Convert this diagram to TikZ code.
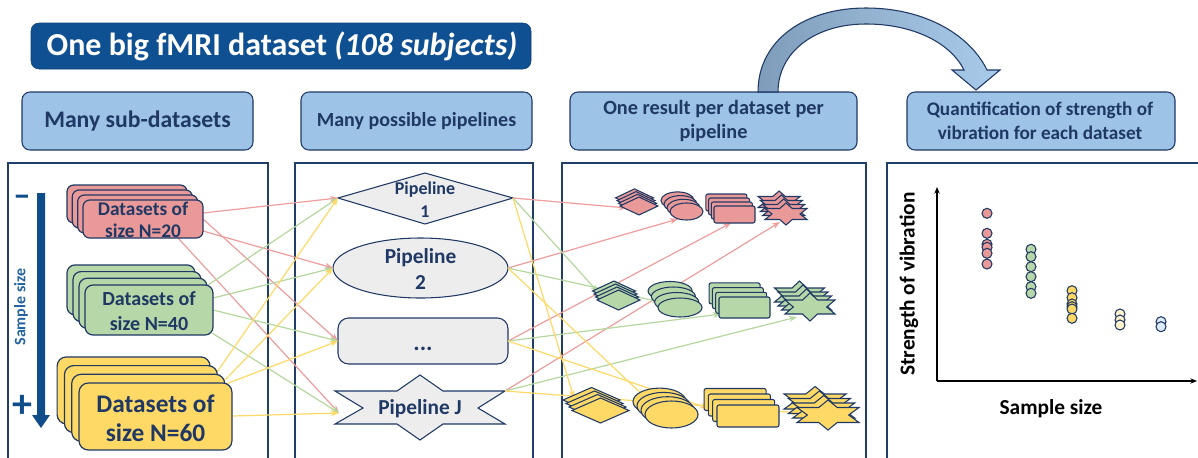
\documentclass[tikz,border=0pt]{standalone}
\usepackage{fontspec}
\setmainfont{Carlito}
\usetikzlibrary{arrows.meta,shapes.geometric}
\definecolor{navy}{HTML}{1F3864}
\definecolor{titleblue}{HTML}{0F5092}
\definecolor{hdrfill}{HTML}{9DC3E6}
\definecolor{redf}{HTML}{EA9999}
\definecolor{greenf}{HTML}{B6D7A8}
\definecolor{yellowf}{HTML}{FFD966}
\definecolor{redl}{HTML}{EE9C9C}
\definecolor{greenl}{HTML}{B4D79E}
\definecolor{yellowl}{HTML}{FFD966}
\definecolor{pipefill}{HTML}{EDEDED}
\definecolor{framec}{HTML}{1F3F6A}
\definecolor{arrowblue}{HTML}{0F4C8A}
\definecolor{lightyel}{HTML}{FFF2CC}
\definecolor{lightblu}{HTML}{DEEBF7}
\definecolor{arcdark}{HTML}{7F9DBA}
\definecolor{arclight}{HTML}{A9CBEA}
\definecolor{sslabel}{HTML}{2262A0}
\newcommand\fsz[2]{\fontsize{#1pt}{#2pt}\selectfont}
% result shapes: #1 cx, #2 cy, #3 w, #4 h, #5 colour
\newcommand\shpdia[5]{\draw[shp,fill=#5] (#1,#2) ++(-#3/2,0) -- ++(#3/2,-#4/2) -- ++(#3/2,#4/2) -- ++(-#3/2,#4/2) -- cycle;}
\newcommand\shpell[5]{\draw[shp,fill=#5] (#1,#2) ellipse [x radius=#3/2, y radius=#4/2];}
\newcommand\shprec[5]{\draw[shp,fill=#5,rounded corners=1.5pt] ({#1-#3/2},{#2-#4/2}) rectangle ({#1+#3/2},{#2+#4/2});}
\newcommand\shpstar[5]{\begin{scope}[shift={(#1,#2)},xscale=#3/2,yscale=#4/2]
  \draw[shp,fill=#5] (0,-1) -- (0.3,-0.5) -- (1,-0.5) -- (0.667,0) -- (1,0.5) -- (0.3,0.5) -- (0,1) -- (-0.3,0.5) -- (-1,0.5) -- (-0.667,0) -- (-1,-0.5) -- (-0.3,-0.5) -- cycle;
  \end{scope}}
% stack: #1 kind, #2 cx, #3 cy, #4 w, #5 h, #6 dx, #7 dy, #8 colour
\newcommand\stk[8]{\foreach \kk in {3,2,1,0}{\pgfmathsetmacro\ccx{#2-\kk*#6}\pgfmathsetmacro\ccy{#3-\kk*#7}\csname shp#1\endcsname{\ccx}{\ccy}{#4}{#5}{#8}}}
\begin{document}
\begin{tikzpicture}[x=0.75pt,y=-0.75pt,
  shp/.style={draw=navy,line width=0.8pt},
  con/.style={line width=0.9pt,-{Stealth[length=6pt,width=4.5pt]}},
  hdr/.style={draw=navy,line width=0.8pt,fill=hdrfill,rounded corners=6pt},
  frm/.style={draw=framec,line width=1pt},
  dbox/.style={draw=navy,line width=0.9pt,rounded corners=5pt},
  txt/.style={text=navy,align=center,inner sep=0pt},
  dotst/.style={draw=navy,line width=0.8pt},
  axis/.style={line width=0.8pt,-{Stealth[length=5pt,width=4pt]}}
]
\useasboundingbox (0,0) rectangle (1198,457);

% title
\draw[fill=titleblue,draw=titleblue!80!black,rounded corners=6pt] (31,23) rectangle (531,69);
\node[text=white,font=\bfseries\fsz{24}{28},inner sep=0pt] (title) at (282,46) {One big fMRI dataset \textit{(108 subjects)}};

% headers
\draw[hdr] (22,92) rectangle (253,150);
\node[txt,font=\bfseries\fsz{17.8}{21}] (h1) at (137.5,121) {Many sub-datasets};
\draw[hdr] (301,92) rectangle (532,150);
\node[txt,font=\bfseries\fsz{15}{18}] (h2) at (416.5,121) {Many possible pipelines};
\draw[hdr] (570,92) rectangle (857,150);
\node[txt,font=\bfseries\fsz{15.2}{18}] (h3) at (713.5,121) {One result per dataset per\\pipeline};
\draw[hdr] (907,92) rectangle (1175,150);
\node[txt,font=\bfseries\fsz{14.4}{18}] (h4) at (1040,121) {Quantification of strength of\\vibration for each dataset};

% curved arrow
\draw[draw=navy,line width=0.8pt,left color=arcdark,right color=arclight]
  (758,92) .. controls (758,40) and (805,8) .. (866,8)
  .. controls (925,8) and (970,35) .. (987,70)
  -- (1000,70) -- (976,90) -- (952,70) -- (964,70)
  .. controls (950,42) and (912,24) .. (866,24)
  .. controls (815,24) and (778,52) .. (778,92) -- cycle;

% panels
\draw[frm] (8,470) -- (8,163) -- (268,163) -- (268,470);
\draw[frm] (295,470) -- (295,163) -- (533,163) -- (533,470);
\draw[frm] (562,470) -- (562,163) -- (866,163) -- (866,470);
\draw[frm] (887,470) -- (887,163) -- (1210,163);

% panel 1: sample size arrow
\fill[arrowblue] (37,193) -- (45,193) -- (45,415) -- (50,415) -- (41,428) -- (32,415) -- (37,415) -- cycle;
\node[text=arrowblue,font=\bfseries\fsz{26}{26},inner sep=0pt] (minus) at (22,201) {–};
\node[text=arrowblue,font=\bfseries\fsz{30}{30},inner sep=0pt] (plus) at (22,406) {+};
\node[text=sslabel,font=\bfseries\fsz{12}{14},rotate=90,inner sep=0pt] (sslab) at (21,307) {Sample size};

% pipelines shapes
\draw[shp,fill=pipefill] (338,198) -- (425,173) -- (513,198) -- (425,224) -- cycle;
\draw[shp,fill=pipefill] (420.5,268) ellipse [x radius=87.5, y radius=30];
\draw[shp,fill=pipefill,rounded corners=8pt] (338,318) rectangle (508,364);
\draw[shp,fill=pipefill] (420,375) -- (443,391) -- (505,391) -- (478,408) -- (505,424) -- (443,424) -- (420,440) -- (397,424) -- (335,424) -- (363,408) -- (335,391) -- (397,391) -- cycle;
\node[txt,font=\bfseries\fsz{13.5}{17}] (p1) at (425,199.5) {Pipeline\\1};
\node[txt,font=\bfseries\fsz{16}{19}] (p2) at (420.5,269) {Pipeline\\2};
\node[txt,font=\bfseries\fsz{18}{20}] (p3) at (423,349) {...};
\node[txt,font=\bfseries\fsz{16}{19}] (pJ) at (420,409) {Pipeline J};

% connector end points
\coordinate (rA) at (203,213); \coordinate (rB) at (203,231);
\coordinate (rC) at (203,219); \coordinate (rD) at (178,238);
\coordinate (gA) at (208,285); \coordinate (gB) at (213,298);
\coordinate (gC) at (213,310); \coordinate (gD) at (212,333);
\coordinate (yA) at (217,372); \coordinate (yB) at (225,380);
\coordinate (yC) at (226,384); \coordinate (yD) at (233,416);
\coordinate (p1w) at (338,198); \coordinate (p2w) at (333,268);
\coordinate (p3w) at (338,341); \coordinate (pJw) at (339,413);
\coordinate (p1e) at (513,198); \coordinate (p2e) at (508,268);
\coordinate (p3e) at (508,341); \coordinate (pJe) at (505,391);
\coordinate (rt1) at (627,208); \coordinate (rt2) at (678,219);
\coordinate (rt3) at (731,223); \coordinate (rt4) at (780,222);
\coordinate (gt1) at (598,292); \coordinate (gt2) at (660,302);
\coordinate (gt3) at (721,314); \coordinate (gt4) at (797,317);
\coordinate (yt1) at (574,398); \coordinate (yt2) at (645,397);
\coordinate (yt3) at (708,408); \coordinate (yt4) at (800,413);

% left connectors
\draw[con,redl] (rA) -- (p1w);
\draw[con,redl] (rB) -- (p2w);
\draw[con,redl] (rC) -- (p3w);
\draw[con,redl] (rD) -- (pJw);
\draw[con,greenl] (gA) -- (p1w);
\draw[con,greenl] (gB) -- (p2w);
\draw[con,greenl] (gC) -- (p3w);
\draw[con,greenl] (gD) -- (pJw);
\draw[con,yellowl] (yA) -- (p1w);
\draw[con,yellowl] (yB) -- (p2w);
\draw[con,yellowl] (yC) -- (p3w);
\draw[con,yellowl] (yD) -- (pJw);

% right connectors
\draw[con,redl] (p1e) -- (rt1);
\draw[con,redl] (p2e) -- (rt2);
\draw[con,redl] (p3e) -- (rt3);
\draw[con,redl] (pJe) -- (rt4);
\draw[con,greenl] (p1e) -- (gt1);
\draw[con,greenl] (p2e) -- (gt2);
\draw[con,greenl] (p3e) -- (gt3);
\draw[con,greenl] (pJe) -- (gt4);
\draw[con,yellowl] (p1e) -- (yt1);
\draw[con,yellowl] (p2e) -- (yt2);
\draw[con,yellowl] (p3e) -- (yt3);
\draw[con,yellowl] (pJe) -- (yt4);

% data stacks
\foreach \k in {3,2,1,0} {\draw[dbox,fill=redf] ({143-\k*5.33-60},{219-\k*5-19}) rectangle ++(120,38);}
\node[txt,font=\bfseries\fsz{14.5}{17}] (d20) at (143,220) {Datasets of\\size N=20};
\foreach \k in {3,2,1,0} {\draw[dbox,fill=greenf,rounded corners=6pt] ({149-\k*6-64},{310-\k*6.7-25}) rectangle ++(128,50);}
\node[txt,font=\bfseries\fsz{15}{18.5}] (d40) at (149,311) {Datasets of\\size N=40};
\foreach \k in {3,2,1,0} {\draw[dbox,fill=yellowf,rounded corners=7pt] ({155.5-\k*7.3-76.5},{416.5-\k*8.7-33.5}) rectangle ++(153,67);}
\node[txt,font=\bfseries\fsz{19}{22}] (d60) at (155.5,418) {Datasets of\\size N=60};

% result stacks
\stk{dia}{639}{206}{38}{18}{1.5}{2.7}{redf}
\stk{ell}{686.5}{211.5}{33}{17}{3}{3.7}{redf}
\stk{rec}{734.5}{214.5}{41}{17}{2.7}{4}{redf}
\stk{star}{786}{214}{42}{22}{2.3}{4}{redf}
\stk{dia}{618.5}{300}{43}{20}{1.5}{3}{greenf}
\stk{ell}{680}{307.5}{44}{19}{3.3}{5.5}{greenf}
\stk{rec}{744.5}{307.5}{51}{21}{3.3}{4.7}{greenf}
\stk{star}{810}{307}{50}{28}{3.5}{4}{greenf}
\stk{dia}{600.5}{410.5}{57}{25}{3}{3.5}{yellowf}
\stk{ell}{671.5}{414.5}{53}{27}{4}{4.3}{yellowf}
\stk{rec}{748}{416}{62}{22}{4.3}{5.5}{yellowf}
\stk{star}{828}{415}{62}{30}{4.3}{4.5}{yellowf}

% panel 4: plot
\coordinate (O) at (937,381); \coordinate (Ytop) at (937,187); \coordinate (Xend) at (1197,381);
\draw[axis] (O) -- (Ytop);
\draw[axis] (O) -- (Xend);
\node[font=\bfseries\fsz{16}{19},rotate=90,inner sep=0pt] (ylab) at (909,284) {Strength of vibration};
\node[font=\bfseries\fsz{16}{19},inner sep=0pt] (xlab) at (1051,409) {Sample size};
\foreach \y in {213.3,233.3,244.3,247.3,253.3,264} \draw[dotst,fill=redf] (987,\y) circle [radius=5];
\foreach \y in {249.3,256.7,266.7,276.7,286.7,293.3} \draw[dotst,fill=greenf] (1031,\y) circle [radius=5];
\foreach \y in {290.7,297.7,304,306.7,309,318.3} \draw[dotst,fill=yellowf] (1072,\y) circle [radius=5];
\foreach \y in {314,320,325} \draw[dotst,fill=lightyel] (1120,\y) circle [radius=5];
\foreach \y in {321.7,326.7} \draw[dotst,fill=lightblu] (1161,\y) circle [radius=5];
\end{tikzpicture}
\end{document}
